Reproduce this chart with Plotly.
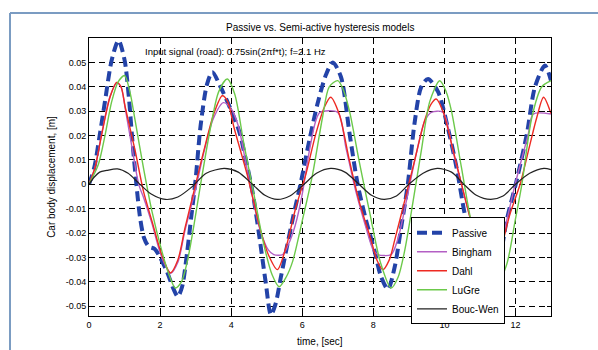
import plotly.graph_objects as go

# ---------------- data ----------------
t_passive = [0, 0.15, 0.3, 0.45, 0.64, 0.83, 1.0, 1.12, 1.22, 1.32, 1.44, 1.55, 1.68, 1.85,
             2.0, 2.2, 2.38, 2.5, 2.62, 2.76, 2.88, 3.0, 3.14, 3.32, 3.47, 3.7, 3.98, 4.22,
             4.4, 4.6, 4.78, 4.97, 5.12, 5.25, 5.4, 5.55, 5.75, 5.95, 6.2, 6.43, 6.67, 6.86,
             7.09, 7.33, 7.56, 7.8, 8.03, 8.22, 8.41, 8.6, 8.78, 8.97, 9.16, 9.35, 9.54,
             9.82, 10.1, 10.34, 10.57, 10.8, 11.05, 11.3, 11.55, 11.75, 12.03, 12.32, 12.55,
             12.83, 13.0]
y_passive = [0, 0.007, 0.02, 0.034, 0.051, 0.059, 0.051, 0.036, 0.018, 0.002, -0.014, -0.022,
             -0.0255, -0.0265, -0.03, -0.036, -0.043, -0.046, -0.042, -0.028, -0.013, 0.002,
             0.024, 0.041, 0.046, 0.04, 0.031, 0.022, 0.011, -0.003, -0.02, -0.04, -0.0535,
             -0.049, -0.038, -0.027, -0.013, 0.0, 0.018, 0.033, 0.045, 0.05, 0.044, 0.021, 0.0,
             -0.015, -0.027, -0.038, -0.043, -0.034, -0.018, 0.0, 0.025, 0.04, 0.0432, 0.038,
             0.023, 0.007, -0.012, -0.027, -0.04, -0.046, -0.032, -0.015, 0.0014, 0.0206, 0.04,
             0.0487, 0.0425]

t_bingham = [0, 0.17, 0.36, 0.59, 0.78, 0.9, 1.02, 1.2, 1.4, 1.55, 1.77, 2.05, 2.3, 2.5, 2.7,
             3.0, 3.23, 3.5, 3.78, 4.0, 4.2, 4.45, 4.8, 5.05, 5.2, 5.45, 5.6, 5.8, 6.0, 6.2,
             6.38, 6.5, 7.0, 7.23, 7.51, 7.8, 8.0, 8.13, 8.5, 8.7, 8.97, 9.2, 9.45, 9.63,
             9.96, 10.25, 10.55, 10.85, 11.1, 11.5, 11.75, 11.99, 12.36, 12.5, 13.0]
y_bingham = [0, 0.007, 0.021, 0.036, 0.0415, 0.04, 0.031, 0.016, 0.0, -0.006, -0.016, -0.03,
             -0.0365, -0.032, -0.019, -0.002, 0.013, 0.027, 0.0335, 0.031, 0.024, 0.006, -0.018,
             -0.027, -0.0288, -0.0288, -0.025, -0.017, -0.004, 0.0137, 0.026, 0.0295, 0.0295,
             0.015, -0.003, -0.018, -0.027, -0.0288, -0.0288, -0.022, -0.004, 0.012, 0.026,
             0.0295, 0.0295, 0.013, -0.004, -0.02, -0.0288, -0.0288, -0.015, 0.0, 0.0206,
             0.0288, 0.0288]

t_dahl = [0, 0.17, 0.36, 0.59, 0.78, 0.9, 1.02, 1.3, 1.53, 1.77, 2.05, 2.29, 2.5, 2.7, 3.0,
          3.23, 3.51, 3.75, 3.9, 4.08, 4.45, 4.83, 5.05, 5.3, 5.54, 5.82, 6.1, 6.38, 6.62, 6.8,
          7.04, 7.33, 7.6, 7.94, 8.1, 8.27, 8.45, 8.6, 8.88, 9.16, 9.44, 9.63, 9.77, 9.96,
          10.25, 10.53, 10.8, 11.05, 11.3, 11.55, 11.85, 12.13, 12.41, 12.6, 12.79, 13.0]
y_dahl = [0, 0.0069, 0.0206, 0.0357, 0.0418, 0.04, 0.0316, 0.0137, -0.0027, -0.015, -0.029,
          -0.0363, -0.031, -0.018, 0.0, 0.0137, 0.0288, 0.0363, 0.034, 0.0233, 0.004, -0.019,
          -0.029, -0.035, -0.026, -0.0095, 0.004, 0.0206, 0.0315, 0.0357, 0.0288, 0.0096,
          -0.0069, -0.023, -0.031, -0.035, -0.031, -0.023, -0.0069, 0.0096, 0.026, 0.033, 0.035,
          0.03, 0.0137, -0.0027, -0.018, -0.03, -0.035, -0.028, -0.012, 0.0, 0.0165, 0.0274,
          0.0357, 0.029]

t_lugre = [0, 0.26, 0.45, 0.64, 0.82, 1.0, 1.15, 1.3, 1.53, 1.77, 2.05, 2.25, 2.43, 2.6, 2.76,
           2.95, 3.14, 3.42, 3.65, 3.89, 4.1, 4.36, 4.64, 4.92, 5.15, 5.35, 5.55, 5.73, 6.0,
           6.29, 6.57, 6.76, 7.0, 7.15, 7.33, 7.6, 7.89, 8.2, 8.5, 8.7, 8.88, 9.12, 9.35, 9.59,
           9.87, 10.05, 10.2, 10.48, 10.75, 11.1, 11.45, 11.75, 11.99, 12.18, 12.46, 12.74, 13.0]
y_lugre = [0, 0.008, 0.02, 0.034, 0.042, 0.0446, 0.038, 0.026, 0.0069, -0.011, -0.0274, -0.037,
           -0.0425, -0.04, -0.032, -0.017, 0.0, 0.0233, 0.038, 0.0432, 0.037, 0.0165, -0.004,
           -0.0247, -0.037, -0.042, -0.038, -0.0316, -0.015, 0.004, 0.0274, 0.04, 0.0425, 0.039,
           0.03, 0.0096, -0.011, -0.032, -0.0425, -0.038, -0.0274, -0.0069, 0.0137, 0.034,
           0.0425, 0.038, 0.03, 0.0069, -0.015, -0.034, -0.042, -0.033, -0.015, 0.0, 0.0274,
           0.04, 0.0425]

t_boucwen = [0, 0.15, 0.3, 0.5, 0.8, 1.1, 1.4, 1.75, 2.15, 2.5, 2.9, 3.3, 3.8, 4.2, 4.6, 4.95,
             5.3, 5.65, 6.05, 6.4, 6.8, 7.2, 7.6, 7.95, 8.3, 8.65, 9.0, 9.4, 9.8, 10.2, 10.55,
             10.9, 11.3, 11.65, 12.0, 12.4, 12.8, 13.0]
y_boucwen = [0, 0.003, 0.005, 0.0057, 0.0063, 0.0045, 0.0005, -0.004, -0.0062, -0.0052, -0.001,
             0.0045, 0.0065, 0.005, 0.0, -0.0045, -0.0062, -0.0048, 0.0, 0.0045, 0.0065, 0.005,
             0.0, -0.0045, -0.0062, -0.0048, 0.0, 0.0045, 0.0065, 0.005, 0.0, -0.0045, -0.0062,
             -0.0048, 0.0, 0.0045, 0.0065, 0.006]

series_names = ["Passive", "Bingham", "Dahl", "LuGre", "Bouc-Wen"]
x_ticks = [0, 2, 4, 6, 8, 10, 12]
y_ticks = [-0.05, -0.04, -0.03, -0.02, -0.01, 0, 0.01, 0.02, 0.03, 0.04, 0.05]
y_tick_labels = ["-0.05", "-0.04", "-0.03", "-0.02", "-0.01", "0",
                 "0.01", "0.02", "0.03", "0.04", "0.05"]

title_text = "Passive vs. Semi-active hysteresis models"
input_text = "Input signal (road): 0.75sin(2\u03c0f*t); f=2.1 Hz"
x_title = "time, [sec]"
y_title = "Car body displacement, [m]"

# ---------------- figure ----------------
FONT = "Liberation Sans, Arial, sans-serif"
fig = go.Figure()

styles = [
    dict(color="#2343a8", width=4, dash="10px,5px"),
    dict(color="#b35fc4", width=1.4),
    dict(color="#ee2a22", width=1.4),
    dict(color="#6cc94a", width=1.4),
    dict(color="#222222", width=1.2),
]
xs = [t_passive, t_bingham, t_dahl, t_lugre, t_boucwen]
ys = [y_passive, y_bingham, y_dahl, y_lugre, y_boucwen]
for name, x, y, st in zip(series_names, xs, ys, styles):
    fig.add_trace(go.Scatter(x=x, y=y, name=name, mode="lines",
                             line=dict(shape="spline", smoothing=0.8, **st)))

axis_common = dict(
    showline=True, linecolor="black", linewidth=1, mirror="ticks",
    ticks="inside", ticklen=4, tickcolor="black",
    showgrid=True, gridcolor="black", gridwidth=1, griddash="6px,4px",
    zeroline=False, tickfont=dict(family=FONT, size=9, color="black"),
    automargin=False,
)
fig.update_xaxes(range=[0, 13], tickvals=x_ticks, **axis_common)
fig.update_yaxes(range=[-0.054, 0.06], tickvals=y_ticks, ticktext=y_tick_labels,
                 title=dict(text=y_title,
                            font=dict(family=FONT, size=10, color="black"), standoff=8),
                 **axis_common)

fig.update_layout(
    width=598, height=350,
    margin=dict(l=89, r=47, t=38, b=34),
    paper_bgcolor="white", plot_bgcolor="white",
    font=dict(family=FONT, color="black"),
    showlegend=True,
    legend=dict(x=0.697, y=0.355, xanchor="left", yanchor="top",
                bgcolor="white", bordercolor="black", borderwidth=1,
                font=dict(family=FONT, size=10, color="black"),
                tracegroupgap=0),
    annotations=[
        dict(text=title_text, xref="paper", yref="paper", x=0.5, y=1.038,
             xanchor="center", yanchor="middle", showarrow=False,
             font=dict(family=FONT, size=10, color="black")),
        dict(text=input_text, xref="paper", yref="paper", x=0.117, y=0.952,
             xanchor="left", yanchor="middle", showarrow=False,
             font=dict(family=FONT, size=9.5, color="black")),
        dict(text=x_title, xref="paper", yref="paper", x=0.5, y=-0.09,
             xanchor="center", yanchor="middle", showarrow=False,
             font=dict(family=FONT, size=10, color="black")),
    ],
    shapes=[
        dict(type="line", xref="paper", yref="paper", x0=-0.171, y0=-0.2, x1=-0.171, y1=1.09,
             line=dict(color="#7b9cc2", width=2)),
        dict(type="line", xref="paper", yref="paper", x0=-0.171, y0=1.09, x1=1.2, y1=1.09,
             line=dict(color="#7b9cc2", width=2)),
    ],
)

fig.write_html("out.html")
